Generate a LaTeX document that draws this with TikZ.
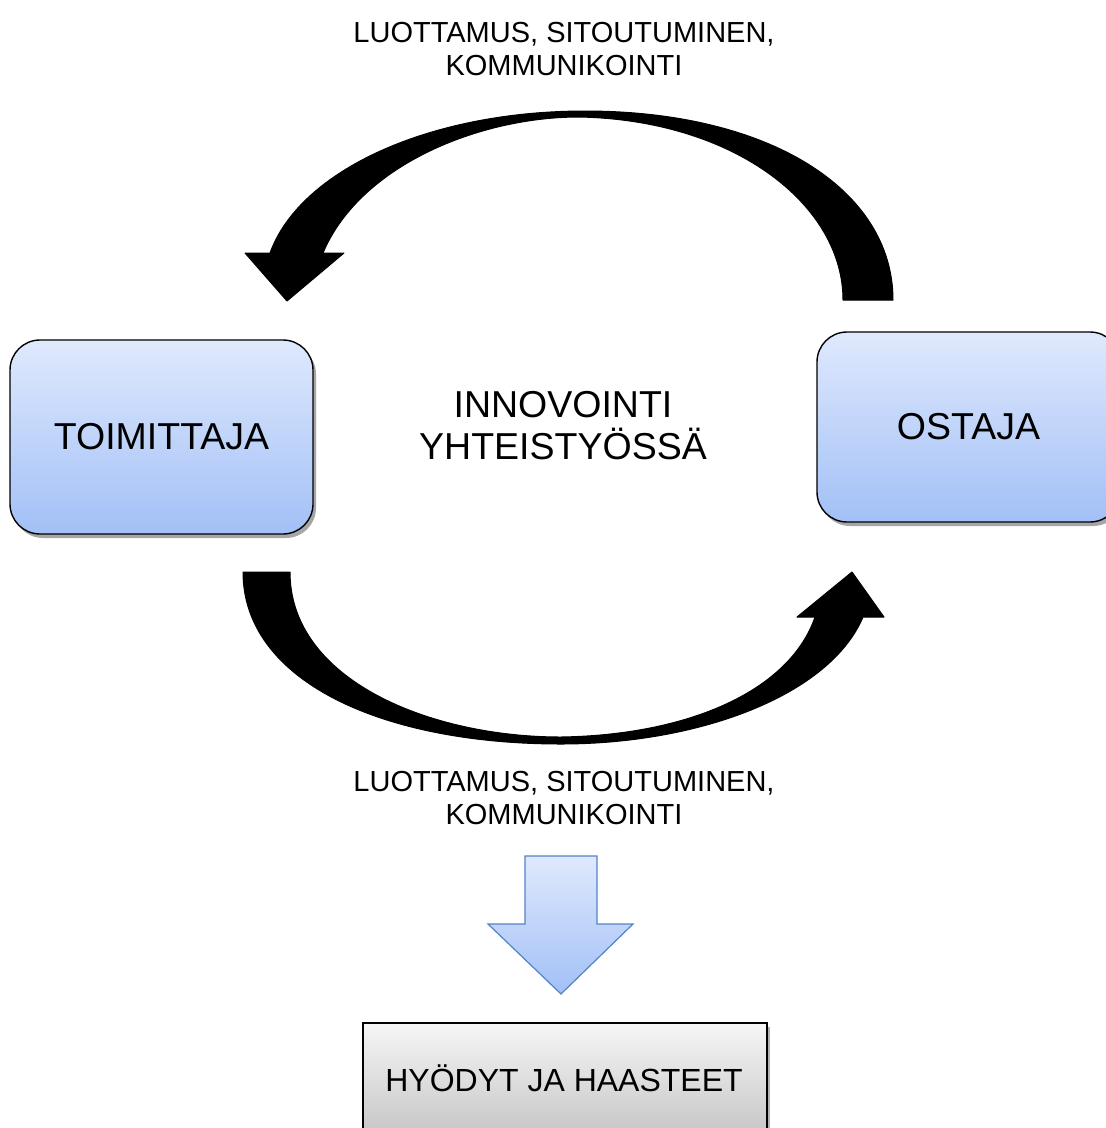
\documentclass[tikz,border=0pt]{standalone}
\usepackage{fontspec}
\setmainfont{Liberation Sans}
\usetikzlibrary{shadows}
\definecolor{boxtop}{RGB}{223,233,253}
\definecolor{boxbot}{RGB}{162,192,246}
\definecolor{graytop}{RGB}{246,246,246}
\definecolor{graybot}{RGB}{198,198,198}
\definecolor{arrowline}{RGB}{84,130,200}
\tikzset{
  actor/.style={rectangle, rounded corners=30pt, draw=black, line width=1.4pt,
    top color=boxtop, bottom color=boxbot, minimum width=303pt, inner sep=0pt,
    font=\fontsize{37.5}{42}\selectfont,
    drop shadow={shadow xshift=3pt, shadow yshift=-4pt, opacity=0.35, fill=black}},
  resultbox/.style={rectangle, draw=black, line width=1.2pt,
    top color=graytop, bottom color=graybot, inner sep=0pt,
    drop shadow={shadow xshift=3pt, shadow yshift=-4pt, opacity=0.3, fill=black}},
  label/.style={align=center, inner sep=0pt, font=\fontsize{29}{33}\selectfont},
  centertext/.style={align=center, inner sep=0pt, font=\fontsize{37.5}{42}\selectfont},
  bigarrow/.style={fill=black, draw=black, line width=1pt, line join=round},
  downarrow/.style={top color=boxtop, bottom color=boxbot, draw=arrowline, line width=1.2pt, line join=miter}
}
\begin{document}
\begin{tikzpicture}[x=1pt, y=-1pt]
\useasboundingbox (0,0) rectangle (1106,1128);

% boxes
\node[actor, minimum height=194pt] (toim) at (161.5,437) {TOIMITTAJA};
\node[actor, minimum height=190pt] (ost) at (968.5,427) {OSTAJA};
\node[centertext] (inn) at (563,426) {INNOVOINTI\\YHTEISTYÖSSÄ};
\node[label] (lab1) at (564,49) {LUOTTAMUS, SITOUTUMINEN,\\KOMMUNIKOINTI};
\node[label] (lab2) at (564,798) {LUOTTAMUS, SITOUTUMINEN,\\KOMMUNIKOINTI};
\node[resultbox, minimum width=404pt, minimum height=112pt] (hy) at (565,1079) {};
\node[inner sep=0pt, font=\fontsize{32}{36}\selectfont] (hytext) at (564,1078) {HYÖDYT JA HAASTEET};

% top curved arrow (from OSTAJA to TOIMITTAJA)
\path[bigarrow] (843,300) -- (893,300)
  .. controls (893,190) and (770,111) .. (585,111)
  .. controls (430,111) and (300,170) .. (270,253)
  -- (245,253) -- (287,301) -- (344,253) -- (323,253)
  .. controls (360,165) and (480,117) .. (579,117)
  .. controls (735,120) and (843,205) .. (843,300) -- cycle;

% bottom curved arrow (from TOIMITTAJA to OSTAJA)
\path[bigarrow] (243,572) -- (290,572)
  .. controls (290,680) and (430,737) .. (561,737)
  .. controls (690,735) and (790,690) .. (815,617)
  -- (797,617) -- (852,572) -- (884,617) -- (863,617)
  .. controls (830,695) and (700,744) .. (561,744)
  .. controls (380,744) and (243,680) .. (243,572) -- cycle;

% down arrow
\path[downarrow] (525,856) -- (597,856) -- (597,924) -- (633,924)
  -- (561,994) -- (488,924) -- (525,924) -- cycle;
\end{tikzpicture}
\end{document}
